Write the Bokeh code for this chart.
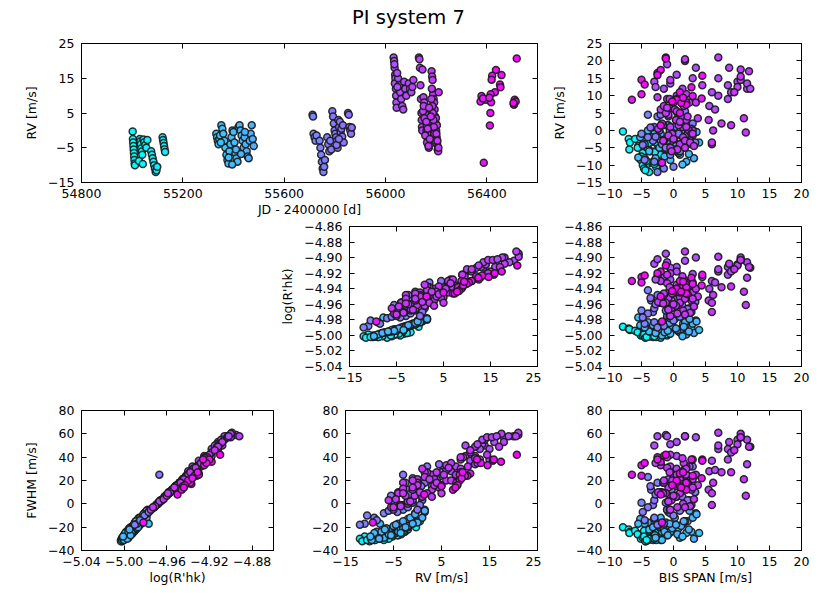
from bokeh.plotting import figure
from bokeh.layouts import column, row
from bokeh.models import ColumnDataSource, FixedTicker, Range1d, LinearAxis, Spacer
from bokeh.transform import linear_cmap
from bokeh.embed import file_html
from bokeh.resources import INLINE
from bokeh.core.properties import value

title_text = "PI system 7"

# ---- data: one entry per observation (seasons 1..5) ----
jd = [
    # season 1
    55002, 55003, 55004, 55005, 55006, 55007, 55008, 55009, 55010, 55011,
    55030, 55032, 55034, 55036, 55038, 55040, 55045, 55048, 55052, 55056, 55060,
    55075, 55078, 55081, 55084, 55087, 55090, 55093, 55096, 55099,
    55120, 55122, 55124, 55126, 55128, 55130, 55027, 55042,
    # season 2
    55332, 55335, 55338, 55341, 55344, 55347, 55352, 55356, 55360, 55364, 55368, 55372, 55376, 55380,
    55384, 55388, 55392, 55396, 55400, 55404, 55408, 55412, 55416,
    55420, 55424, 55428, 55432, 55436, 55440, 55444, 55448, 55452, 55456, 55460, 55464, 55468, 55472, 55476, 55480,
    55381, 55350, 55395, 55410, 55430, 55445,
    # season 3
    55712, 55714, 55716, 55720, 55724, 55728, 55740, 55743, 55746, 55749, 55752, 55755, 55758, 55761,
    55770, 55774, 55778, 55782, 55786,
    55790, 55793, 55796, 55799, 55802, 55805, 55808, 55811, 55814, 55817, 55820, 55823, 55826, 55829, 55832,
    55852, 55855, 55858, 55861, 55864, 55867, 55835, 55807, 55816,
    # season 4
    56032, 56034, 56036, 56038, 56040, 56041, 56042, 56043, 56044, 56035, 56039, 56037,
    56050, 56054, 56058, 56062, 56066, 56070, 56074, 56078, 56082,
    56092, 56097, 56102, 56106, 56110,
    56132, 56134, 56136, 56138, 56140, 56142, 56143, 56144, 56145, 56146,
    56150, 56153, 56156, 56159, 56162, 56165, 56168, 56171, 56174, 56177,
    56182, 56184, 56186, 56188, 56190, 56192, 56194, 56196, 56198, 56200, 56202, 56204, 56206, 56208, 56210, 56199, 56203, 56195,
    56160, 56163, 56166, 56169, 56185, 56187, 56189, 56191, 56193, 56197,
    56046, 56047,
    56148, 56151, 56154, 56157, 56161, 56164, 56167, 56170, 56172, 56175, 56179, 56181, 56183, 56201, 56205, 56209,
    # season 5
    56518, 56436, 56421, 56458, 56419, 56452, 56454, 56432, 56415, 56379, 56396,
    56375, 56417, 56414, 56412, 56388, 56510, 56514, 56507, 56505, 56385, 56410,
]

rv = [
    -0.3, -2.5, -3.5, -4.5, -5.5, -6.5, -7.5, -8.5, -9.5, -10.0,
    -2.5, -3.2, -4.0, -5.2, -6.1, -7.0, -2.6, -3.4, -4.2, -5.0, -2.8,
    -6.0, -7.0, -8.0, -9.0, -10.0, -11.0, -12.0, -11.5, -10.5,
    -2.0, -2.8, -3.6, -4.5, -5.4, -6.2, -8.8, -9.7,
    -1.0, -2.0, -3.0, -4.0, -2.5, -1.5, 1.5, 0.5, -1.0, -3.0, -5.0, -7.0, -8.5, -9.5,
    -6.0, -4.0, -2.0, 0.0, -0.5, -3.5, -6.5, -8.0, -9.0,
    1.0, 1.5, 0.0, -1.5, -3.0, -5.0, -2.0, -4.0, -6.0, -7.5, -8.0, -3.0, -1.0, 1.5, -2.5, -4.5,
    -7.8, -3.5, -9.8, -5.5, -6.8, -0.5,
    4.5, 4.0, -1.0, -2.0, -3.0, -1.5, -3.0, -5.0, -7.0, -9.0, -11.0, -12.0, -10.5, -8.5,
    -2.0, -4.0, -6.0, -3.0, -5.5,
    5.5, 4.0, 2.0, 0.0, -1.0, -2.0, -3.0, -5.0, 3.0, 1.0, 2.5, -0.5, 0.5, -1.8, 1.5,
    5.0, 4.5, 1.0, 0.0, -1.0, 0.8, -3.5, -4.2, -2.5,
    21.0, 20.0, 18.0, 16.0, 14.0, 12.0, 10.0, 8.0, 6.5, 19.0, 15.0, 13.5,
    15.0, 13.0, 11.0, 9.0, 7.0, 6.0, 14.0, 12.0, 10.0,
    13.5, 12.0, 11.0, 12.5, 14.5,
    21.0, 20.5, 18.0, 13.0, 9.0, 5.0, 3.0, 1.0, 0.0, 17.5,
    9.5, 8.0, 6.0, 3.0, 0.0, -2.0, -4.0, -5.0, 2.0, -0.6,
    17.0, 15.5, 14.5, 10.5, 9.0, 8.0, 6.0, 4.0, 2.0, 0.0, -2.0, -4.0, -5.5, -6.0, 11.0, 3.5, 1.5, -3.5,
    4.5, 1.5, -1.0, -3.0, 7.0, 5.0, 3.0, 1.0, -1.0, -3.0,
    16.5, 12.5,
    5.5, 7.0, 3.5, -1.5, 2.5, -3.5, 0.5, -4.5, 6.5, -2.5, 4.0, 9.0, 12.0, -1.0, -3.0, -5.0,
    20.7, 17.4, 15.7, 15.9, 14.6, 13.2, 12.4, 11.0, 10.4, 9.9, 8.8,
    8.3, 8.1, 5.0, 1.4, -9.3, 8.8, 8.3, 7.4, 7.9, 9.2, 9.4,
]

bis_span = [
    -7.9, -7.0, -6.8, -5.5, -6.9, -4.8, -5.0, -5.1, -3.9, -4.3,
    -6.0, -3.4, -2.5, -4.0, -3.0, -2.2, -1.5, -2.8, -1.0, -5.6, -4.6,
    -3.6, -2.0, -4.5, -3.2, -4.8, -4.6, -3.8, -4.4, -2.7,
    -2.4, -1.8, -3.8, -0.6, -1.2, -2.9, -4.2, -3.0,
    -2.0, -3.5, -1.2, 0.5, -4.8, 1.5, -0.8, 2.2, -3.0, 0.0, -2.2, 1.0, -0.5, -1.8,
    -3.8, 2.8, -5.2, 1.8, 3.5, -1.5, 0.8, -2.8, 2.0,
    0.2, -1.0, -4.0, 3.0, -0.2, 1.2, -2.5, -4.5, 0.6, -1.4, 3.2, 1.6, -0.6, 2.5, -3.2, 0.4,
    -5.5, 4.0, 1.4, -0.9, 2.4, 3.6,
    -4.0, -2.5, -5.0, -3.5, -1.0, 0.5, -2.0, 1.5, -0.5, -3.0, -1.5, -2.5, 0.0, -4.5,
    2.5, -1.8, 1.0, -3.2, 0.2,
    1.8, -0.8, 3.0, -2.2, 0.8, -4.0, 2.0, -1.2, 0.4, -3.0, 1.2, -0.3, 2.8, -2.8, -1.6,
    0.6, -2.0, 1.4, -0.6, 2.2, -3.6, 3.4, -4.8, 1.6,
    -1.2, 1.8, 3.5, 0.5, -3.0, -1.5, 0.5, 2.5, -0.5, -1.0, 3.0, -0.5,
    7.0, 8.5, 6.0, 8.5, 5.6, 6.5, 10.0, 11.5, 7.0,
    11.5, 12.0, 9.0, 10.0, 10.5,
    7.0, 1.8, 8.7, 4.5, 0.5, 1.0, 2.0, -0.5, 3.0, 10.5,
    -2.5, 0.0, -2.0, 5.5, 6.2, 1.5, 6.0, -0.5, 7.5, 11.3,
    11.8, 10.5, -0.5, 2.0, -1.0, 3.5, 0.2, 1.2, -1.8, 2.4, -0.8, 1.0, 0.6, -0.3, 9.5, 11.0, 9.0, 6.0,
    -0.8, 0.8, 2.8, -1.5, 1.6, -1.2, 0.4, 2.0, -0.2, 1.8,
    -2.5, -2.8,
    0.5, -1.5, 3.8, -0.8, 1.0, 2.6, -2.4, 3.2, -1.0, 0.0, 2.2, -0.6, 1.4, 3.0, -1.6, 1.8,
    -1.2, -2.0, 4.5, -2.5, -5.0, -4.5, 2.8, 1.0, -5.0, 3.0, -6.5,
    1.5, 2.0, 1.0, -2.0, -1.8, 0.5, -0.2, 2.0, 1.2, 4.4, 1.5,
]

log_rhk = [
    -4.989, -4.991, -4.993, -4.995, -4.992, -4.997, -4.999, -5.000, -5.001, -5.002,
    -4.994, -4.996, -4.998, -4.999, -5.000, -5.002, -4.997, -4.998, -5.000, -4.996, -4.995,
    -5.001, -5.003, -5.001, -5.002, -5.000, -4.999, -5.001, -5.003, -5.002,
    -4.996, -4.997, -4.995, -4.998, -4.999, -5.000, -5.002, -5.001,
    -4.986, -4.988, -4.990, -4.992, -4.989, -4.985, -4.980, -4.982, -4.986, -4.990, -4.994, -4.996, -4.998, -5.000,
    -4.995, -4.991, -4.987, -4.983, -4.981, -4.989, -4.995, -4.997, -4.999,
    -4.979, -4.978, -4.983, -4.985, -4.988, -4.992, -4.986, -4.990, -4.993, -4.996, -4.997, -4.989, -4.984, -4.979, -4.987, -4.991,
    -4.977, -4.993, -5.001, -4.994, -4.995, -4.982,
    -4.942, -4.948, -4.968, -4.955, -4.975, -4.962, -4.958, -4.972, -4.978, -4.983, -4.988, -4.990, -4.981, -4.985,
    -4.965, -4.958, -4.976, -4.970, -4.961,
    -4.935, -4.945, -4.932, -4.958, -4.944, -4.972, -4.967, -4.968, -4.952, -4.965, -4.940, -4.955, -4.970, -4.960, -4.948,
    -4.938, -4.930, -4.962, -4.975, -4.966, -4.952, -4.957, -4.977, -4.948,
    -4.895, -4.904, -4.900, -4.912, -4.908, -4.925, -4.918, -4.936, -4.928, -4.906, -4.921, -4.913,
    -4.918, -4.912, -4.930, -4.922, -4.940, -4.932, -4.909, -4.926, -4.915,
    -4.906, -4.913, -4.918, -4.910, -4.903,
    -4.899, -4.892, -4.908, -4.925, -4.935, -4.951, -4.940, -4.962, -4.945, -4.900,
    -4.924, -4.942, -4.930, -4.955, -4.948, -4.968, -4.958, -4.975, -4.938, -4.961,
    -4.912, -4.903, -4.920, -4.931, -4.922, -4.940, -4.945, -4.937, -4.958, -4.950, -4.966, -4.958, -4.972, -4.965, -4.915, -4.944, -4.937, -4.970,
    -4.952, -4.942, -4.955, -4.948, -4.928, -4.958, -4.962, -4.935, -4.946, -4.953,
    -4.902, -4.928,
    -4.940, -4.946, -4.950, -4.967, -4.944, -4.971, -4.957, -4.963, -4.933, -4.960, -4.947, -4.938, -4.924, -4.953, -4.959, -4.973,
    -4.910, -4.918, -4.922, -4.920, -4.925, -4.923, -4.926, -4.930, -4.932, -4.934, -4.930,
    -4.937, -4.938, -4.945, -4.950, -4.982, -4.940, -4.943, -4.946, -4.944, -4.936, -4.931,
]

fwhm = [
    -20, -22, -24, -26, -25, -28, -29, -30, -31, -32,
    -23, -25, -27, -28, -27, -29, -24, -26, -27, -26, -23,
    -30, -31, -30, -31, -29, -28, -30, -32, -31,
    -22, -24, -23, -25, -26, -27, -31, -30,
    -12, -20, -16, -24, -15, -17, -7, -15, -13, -23, -20, -29, -24, -31,
    -22, -24, -13, -15, -8, -22, -21, -29, -25,
    -12, -5, -16, -12, -21, -19, -19, -17, -26, -24, -30, -15, -17, -6, -20, -18,
    -17, -25, -28, -27, -22, -9,
    23, 18, 1, 12, -5, 6, 10, -3, -8, -12, -17, -18, -10, -14,
    3, 10, -6, -1, 7,
    30, 21, 32, 10, 22, -3, 25, 1, 15, 3, 25, 12, -1, 8, 18,
    27, 34, 6, -5, 3, 15, 10, -7, 18,
    59, 58, 57, 53, 50, 41, 41, 32, 32, 58, 38, 51,
    47, 47, 37, 38, 28, 29, 55, 34, 50,
    55, 49, 44, 51, 57,
    61, 58, 53, 38, 30, 16, 25, 6, 21, 60,
    40, 24, 33, 12, 18, 0, 9, -5, 27, 7,
    49, 57, 42, 32, 40, 25, 20, 27, 9, 16, 2, 9, -3, 3, 46, 21, 27, -1,
    14, 23, 12, 18, 35, 9, 6, 30, 20, 13,
    58, 35,
    25, 20, 16, 2, 21, -2, 10, 4, 31, 7, 18, 27, 39, 14, 9, -3,
    42, 36, 37, 38, 33, 35, 38, 26, 24, 24, 25,
    17, 18, 15, 8, -16, 20, 16, 12, 14, 22, 27,
]

assert len(jd) == len(rv) == len(bis_span) == len(log_rhk) == len(fwhm)

# tick positions
jd_ticks = [54800, 55200, 55600, 56000, 56400]
rv_ticks_coarse = [-15, -5, 5, 15, 25]
rv_ticks_fine = [-15, -10, -5, 0, 5, 10, 15, 20, 25]
bis_ticks = [-10, -5, 0, 5, 10, 15, 20]
logr_ticks_fine = [-5.04, -5.02, -5.00, -4.98, -4.96, -4.94, -4.92, -4.90, -4.88, -4.86]
logr_ticks_coarse = [-5.04, -5.00, -4.96, -4.92, -4.88]
fwhm_ticks = [-40, -20, 0, 20, 40, 60, 80]

# ---- style ----
FONT = "DejaVu Sans"
FS = "12.5px"

palette = ["#%02x%02x%02x" % (i, 255 - i, 255) for i in range(256)]
src = ColumnDataSource(dict(jd=jd, rv=rv, bis=bis_span, logr=log_rhk, fwhm=fwhm))
cmap = linear_cmap("jd", palette, low=min(jd), high=max(jd))


def labels(ticks, dec):
    return {t: (f"{t:.{dec}f}").replace("-", "\u2212") for t in ticks}


def style_axis(ax, ticks, dec, show_labels=True):
    ax.ticker = FixedTicker(ticks=ticks)
    ax.major_tick_in = 5
    ax.major_tick_out = 0
    ax.minor_tick_line_color = None
    ax.axis_line_color = "black"
    ax.major_tick_line_color = "black"
    if show_labels:
        ax.major_label_overrides = labels(ticks, dec)
        ax.major_label_text_font = FONT
        ax.major_label_text_font_size = FS
        ax.major_label_text_color = "black"
    else:
        ax.major_label_text_font_size = "1px"
        ax.major_label_text_color = None
        ax.major_label_text_alpha = 0
        ax.major_label_standoff = 0
    ax.axis_label_text_font = FONT
    ax.axis_label_text_font_size = FS
    ax.axis_label_text_font_style = "normal"
    ax.axis_label_text_color = "black"


def panel(xf, yf, xr, yr, xt, xd, yt, yd, xlabel, ylabel, w, h, bl, br, bt, bb):
    p = figure(width=w, height=h, output_backend="svg", toolbar_location=None,
               x_range=Range1d(*xr), y_range=Range1d(*yr),
               min_border_left=bl, min_border_right=br,
               min_border_top=bt, min_border_bottom=bb)
    p.grid.visible = False
    p.outline_line_color = "black"
    p.outline_line_width = 1
    p.background_fill_color = "white"
    p.border_fill_color = "white"
    style_axis(p.xaxis[0], xt, xd)
    style_axis(p.yaxis[0], yt, yd)
    p.xaxis[0].major_label_standoff = 6
    p.yaxis[0].major_label_standoff = 7
    p.xaxis[0].axis_label_standoff = 1
    p.yaxis[0].axis_label_standoff = 6
    if xlabel:
        p.xaxis[0].axis_label = xlabel
    if ylabel:
        p.yaxis[0].axis_label = ylabel
    top = LinearAxis()
    style_axis(top, xt, xd, show_labels=False)
    p.add_layout(top, "above")
    right = LinearAxis()
    style_axis(right, yt, yd, show_labels=False)
    p.add_layout(right, "right")
    p.scatter(xf, yf, source=src, size=7, marker="circle",
              fill_color=cmap, line_color="#1a1a1a", line_alpha=0.9, line_width=1.5)
    return p


# title strip
TH = 28
tfig = figure(width=809, height=TH, output_backend="svg", toolbar_location=None,
              x_range=Range1d(0, 809), y_range=Range1d(0, TH),
              x_axis_type=None, y_axis_type=None, min_border=0)
tfig.grid.visible = False
tfig.outline_line_color = None
tfig.text(x=[408], y=[TH - 17], text=[title_text], text_align="center", text_baseline="middle",
          text_font=value(FONT), text_font_size="19.5px", text_color="black")

tl = panel("jd", "rv", (54800, 56600), (-15, 25), jd_ticks, 0, rv_ticks_coarse, 0,
           "JD - 2400000 [d]", "RV [m/s]", 541, 192, 81, 4, 11, 38)
tr = panel("bis", "rv", (-10, 20), (-15, 25), bis_ticks, 0, rv_ticks_fine, 0,
           None, "RV [m/s]", 268, 192, 68, 8, 15, 38)

ml = panel("rv", "logr", (-15, 25), (-5.04, -4.86), rv_ticks_coarse, 0, logr_ticks_fine, 2,
           None, "log(R'hk)", 264, 176, 68, 4, 6, 30)
mr = panel("bis", "logr", (-10, 20), (-5.04, -4.86), bis_ticks, 0, logr_ticks_fine, 2,
           None, None, 268, 176, 68, 8, 6, 30)

bl = panel("logr", "fwhm", (-5.04, -4.86), (-40, 80), logr_ticks_coarse, 2, fwhm_ticks, 0,
           "log(R'hk)", "FWHM [m/s]", 277, 194, 81, 4, 14, 40)
bm = panel("rv", "fwhm", (-15, 25), (-40, 80), rv_ticks_coarse, 0, fwhm_ticks, 0,
           "RV [m/s]", None, 264, 194, 68, 4, 14, 40)
br = panel("bis", "fwhm", (-10, 20), (-40, 80), bis_ticks, 0, fwhm_ticks, 0,
           "BIS SPAN [m/s]", None, 268, 194, 68, 8, 14, 40)

layout = column(
    tfig,
    row(tl, tr),
    row(Spacer(width=277, height=176), ml, mr),
    row(bl, bm, br),
)

open("out.html", "w").write(file_html(layout, INLINE))
